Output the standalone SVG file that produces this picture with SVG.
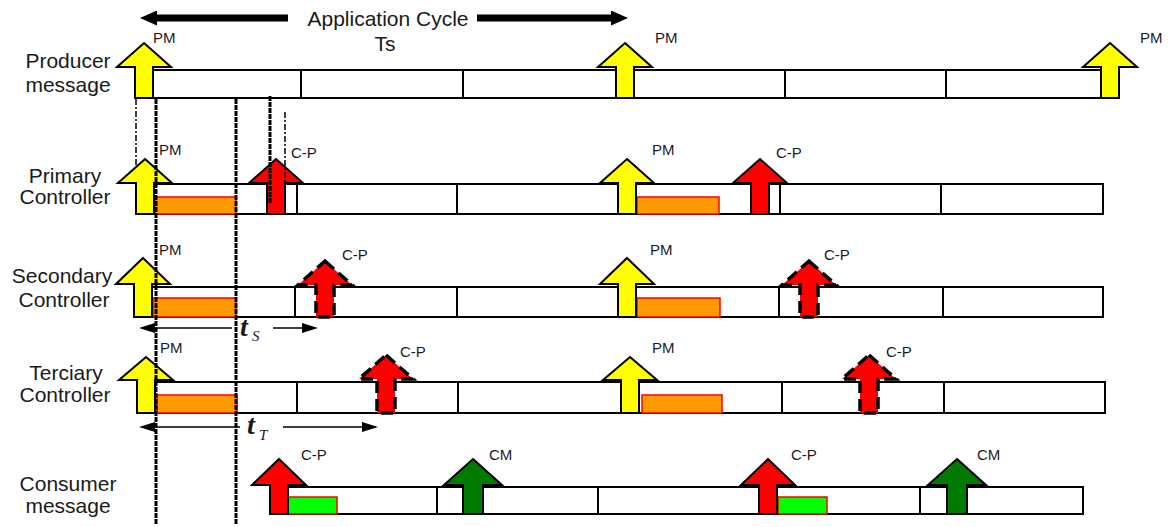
<svg xmlns="http://www.w3.org/2000/svg" width="1169" height="527" viewBox="0 0 1169 527">
<style>
.bg{fill:#fff}
.bar{fill:#fff;stroke:#000;stroke-width:2}
.div{stroke:#000;stroke-width:2}
.lbl{font-family:"Liberation Sans",Arial,sans-serif;font-size:21px;fill:#1a1a1a;text-anchor:middle}
.sm{font-family:"Liberation Sans",Arial,sans-serif;font-size:15px;fill:#1a1a1a}
.ttl{font-family:"Liberation Sans",Arial,sans-serif;font-size:21px;fill:#1a1a1a;text-anchor:middle}
.yel{fill:#ffff00;stroke:#000;stroke-width:2;stroke-linejoin:miter}
.red{fill:#ff0000;stroke:#000;stroke-width:2}
.redd{fill:#ff0000;stroke:#000;stroke-width:3.5;stroke-dasharray:12 6}
.grn{fill:#007a00;stroke:#000;stroke-width:2}
.org{fill:#ff9900;stroke:#ff0000;stroke-width:1.5}
.lime{fill:#00ff00;stroke:#ff0000;stroke-width:1.5}
.thick{stroke:#000;stroke-width:3;stroke-dasharray:5 1;fill:none}
.thin{stroke:#000;stroke-width:1.5;stroke-dasharray:6 2 2 2;fill:none}
.big{stroke:#000;stroke-width:7;fill:none}
.meas{stroke:#000;stroke-width:1.5;fill:none}
.tv{font-family:"Liberation Serif","Times New Roman",serif;font-style:italic;font-weight:bold;font-size:28px;fill:#1a1a1a}
.ts{font-family:"Liberation Serif","Times New Roman",serif;font-style:italic;font-size:15px;fill:#1a1a1a}
</style>
<defs>
<marker id="bh" viewBox="0 0 17 15" refX="0" refY="7.5" markerWidth="17" markerHeight="15" markerUnits="userSpaceOnUse" orient="auto">
<path d="M0,0 L17,7.5 L0,15 Z" fill="#000"/>
</marker>
<marker id="sh" viewBox="0 0 16 10" refX="0" refY="5" markerWidth="16" markerHeight="10" markerUnits="userSpaceOnUse" orient="auto">
<path d="M0,0 L16,5 L0,10 Z" fill="#000"/>
</marker>
</defs>
<rect class="bg" x="0" y="0" width="1169" height="527"/>

<g id="cycle">
<text class="ttl" x="388" y="26">Application Cycle</text>
<text class="ttl" x="385" y="51">Ts</text>
</g>

<g id="producer">
<text class="lbl" x="68" y="68">Producer</text>
<text class="lbl" x="68" y="92">message</text>
<rect class="bar" x="135" y="70" width="984" height="28"/>
<line class="div" x1="301" y1="70" x2="301" y2="98"/>
<line class="div" x1="463" y1="70" x2="463" y2="98"/>
<line class="div" x1="785" y1="70" x2="785" y2="98"/>
<line class="div" x1="946" y1="70" x2="946" y2="98"/>
<path class="yel" d="M144,43 L171,67 L153,67 L153,98 L135,98 L135,67 L117,67 Z"/>
<path class="yel" d="M625,43 L652,67 L634,67 L634,98 L616,98 L616,67 L598,67 Z"/>
<path class="yel" d="M1110,43 L1137,67 L1119,67 L1119,98 L1101,98 L1101,67 L1083,67 Z"/>
<text class="sm" x="153" y="43">PM</text>
<text class="sm" x="655" y="43">PM</text>
<text class="sm" x="1140" y="43">PM</text>
</g>

<g id="primary">
<text class="lbl" x="65" y="183">Primary</text>
<text class="lbl" x="65" y="204">Controller</text>
<rect class="bar" x="136" y="184" width="967" height="30"/>
<line class="div" x1="297" y1="184" x2="297" y2="214"/>
<line class="div" x1="457" y1="184" x2="457" y2="214"/>
<line class="div" x1="780" y1="184" x2="780" y2="214"/>
<line class="div" x1="941" y1="184" x2="941" y2="214"/>
<rect class="org" x="155" y="197" width="81" height="17"/>
<rect class="org" x="637" y="197" width="82" height="17"/>
<path class="yel" d="M145,159 L172,183 L154,183 L154,214 L136,214 L136,183 L118,183 Z"/>
<path class="yel" d="M627,159 L654,183 L636,183 L636,214 L618,214 L618,183 L600,183 Z"/>
<path class="red" d="M276,159 L303,183 L285,183 L285,214 L267,214 L267,183 L249,183 Z"/>
<path class="red" d="M760,159 L787,183 L769,183 L769,214 L751,214 L751,183 L733,183 Z"/>
<text class="sm" x="159" y="155">PM</text>
<text class="sm" x="652" y="155">PM</text>
<text class="sm" x="291" y="158">C-P</text>
<text class="sm" x="776" y="158">C-P</text>
</g>

<g id="secondary">
<text class="lbl" x="62" y="283">Secondary</text>
<text class="lbl" x="64" y="307">Controller</text>
<rect class="bar" x="134" y="287" width="969" height="30"/>
<line class="div" x1="295" y1="287" x2="295" y2="317"/>
<line class="div" x1="457" y1="287" x2="457" y2="317"/>
<line class="div" x1="779" y1="287" x2="779" y2="317"/>
<line class="div" x1="943" y1="287" x2="943" y2="317"/>
<rect class="org" x="153" y="298" width="83" height="19"/>
<rect class="org" x="637" y="298" width="83" height="19"/>
<path class="yel" d="M143,258 L170,284 L152,284 L152,317 L134,317 L134,284 L116,284 Z"/>
<path class="yel" d="M627,258 L654,284 L636,284 L636,317 L618,317 L618,284 L600,284 Z"/>
<path class="redd" d="M325,261 L352,285 L334,285 L334,317 L316,317 L316,285 L298,285 Z"/>
<path class="redd" d="M809,261 L836,285 L818,285 L818,317 L800,317 L800,285 L782,285 Z"/>
<text class="sm" x="159" y="255">PM</text>
<text class="sm" x="650" y="255">PM</text>
<text class="sm" x="342" y="260">C-P</text>
<text class="sm" x="824" y="260">C-P</text>
</g>

<g id="tertiary">
<text class="lbl" x="66" y="380">Terciary</text>
<text class="lbl" x="65" y="402">Controller</text>
<rect class="bar" x="137" y="382" width="968" height="31"/>
<line class="div" x1="297" y1="382" x2="297" y2="413"/>
<line class="div" x1="458" y1="382" x2="458" y2="413"/>
<line class="div" x1="782" y1="382" x2="782" y2="413"/>
<line class="div" x1="944" y1="382" x2="944" y2="413"/>
<rect class="org" x="157" y="395" width="80" height="18"/>
<rect class="org" x="642" y="395" width="80" height="18"/>
<path class="yel" d="M146,357 L173,380 L155,380 L155,413 L137,413 L137,380 L119,380 Z"/>
<path class="yel" d="M630,357 L657,380 L639,380 L639,413 L621,413 L621,380 L603,380 Z"/>
<path class="redd" d="M386,355 L413,379 L395,379 L395,413 L377,413 L377,379 L359,379 Z"/>
<path class="redd" d="M869,355 L896,379 L878,379 L878,413 L860,413 L860,379 L842,379 Z"/>
<text class="sm" x="160" y="353">PM</text>
<text class="sm" x="652" y="353">PM</text>
<text class="sm" x="400" y="357">C-P</text>
<text class="sm" x="886" y="357">C-P</text>
</g>

<g id="consumer">
<text class="lbl" x="68" y="491">Consumer</text>
<text class="lbl" x="68" y="513">message</text>
<rect class="bar" x="270" y="487" width="813" height="27"/>
<line class="div" x1="437" y1="487" x2="437" y2="514"/>
<line class="div" x1="598" y1="487" x2="598" y2="514"/>
<line class="div" x1="920" y1="487" x2="920" y2="514"/>
<rect class="lime" x="288" y="497" width="49" height="17"/>
<rect class="lime" x="778" y="497" width="49" height="17"/>
<path class="red" d="M279,459 L306,485 L288,485 L288,514 L270,514 L270,485 L252,485 Z"/>
<path class="red" d="M768,459 L795,485 L777,485 L777,514 L759,514 L759,485 L741,485 Z"/>
<path class="grn" d="M473,459 L502,485 L483,485 L483,514 L463,514 L463,485 L444,485 Z"/>
<path class="grn" d="M957,459 L986,485 L967,485 L967,514 L947,514 L947,485 L928,485 Z"/>
<text class="sm" x="301" y="460">C-P</text>
<text class="sm" x="489" y="460">CM</text>
<text class="sm" x="791" y="460">C-P</text>
<text class="sm" x="977" y="460">CM</text>
</g>

<g id="connectors">
<line class="big" x1="288" y1="18" x2="157" y2="18" marker-end="url(#bh)"/>
<line class="big" x1="477" y1="18" x2="611" y2="18" marker-end="url(#bh)"/>
<line class="thin" x1="136" y1="99" x2="136" y2="165"/>
<line class="thick" x1="156" y1="99" x2="156" y2="525"/>
<line class="thick" x1="236" y1="99" x2="236" y2="525"/>
<line class="thick" x1="270" y1="96" x2="270" y2="203"/>
<line class="thin" x1="285" y1="112" x2="285" y2="216"/>
<line class="meas" x1="232" y1="328" x2="155" y2="328" marker-end="url(#sh)"/>
<line class="meas" x1="273" y1="328" x2="302" y2="328" marker-end="url(#sh)"/>
<line class="meas" x1="240" y1="427" x2="155" y2="427" marker-end="url(#sh)"/>
<line class="meas" x1="283" y1="427" x2="362" y2="427" marker-end="url(#sh)"/>
<text class="tv" x="240" y="336">t</text>
<text class="ts" x="252" y="341">S</text>
<text class="tv" x="247" y="434">t</text>
<text class="ts" x="259" y="440">T</text>
</g>
</svg>
